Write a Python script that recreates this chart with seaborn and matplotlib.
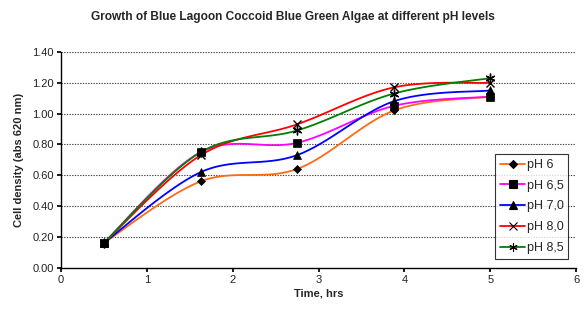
import numpy as np
import matplotlib
matplotlib.use('Agg')
import matplotlib.pyplot as plt
import seaborn as sns
from matplotlib.lines import Line2D

# tempo de medicao (horas) e densidade celular por pH
time_hrs = [0.5, 1.63, 2.75, 3.88, 5.0]
ph_labels = ['pH 6', 'pH 6,5', 'pH 7,0', 'pH 8,0', 'pH 8,5']
ph6 = [0.16, 0.56, 0.64, 1.02, 1.11]
ph65 = [0.16, 0.75, 0.81, 1.05, 1.11]
ph70 = [0.16, 0.62, 0.73, 1.08, 1.15]
ph80 = [0.16, 0.73, 0.93, 1.17, 1.20]
ph85 = [0.16, 0.75, 0.89, 1.13, 1.23]

series = [ph6, ph65, ph70, ph80, ph85]
colors = ['#FF6A13', '#FF00FF', '#0000FF', '#FF0000', '#008000']
markers = ['D', 's', '^', 'x', (6, 2, 0)]
msizes = [4.5, 6, 6, 6, 7]


def smooth(x, y, n=30):
    # curva suavizada estilo Excel (Bezier com pontos de controle Catmull-Rom)
    x = np.asarray(x, float)
    y = np.asarray(y, float)
    px = np.concatenate([[x[0]], x, [x[-1]]])
    py = np.concatenate([[y[0]], y, [y[-1]]])
    xs, ys = [], []
    t = np.linspace(0, 1, n)
    for i in range(1, len(px) - 2):
        p0 = np.array([px[i], py[i]])
        p3 = np.array([px[i + 1], py[i + 1]])
        p1 = p0 + (np.array([px[i + 1], py[i + 1]]) - np.array([px[i - 1], py[i - 1]])) / 6
        p2 = p3 - (np.array([px[i + 2], py[i + 2]]) - np.array([px[i], py[i]])) / 6
        b = ((1 - t) ** 3)[:, None] * p0 + (3 * (1 - t) ** 2 * t)[:, None] * p1 \
            + (3 * (1 - t) * t ** 2)[:, None] * p2 + (t ** 3)[:, None] * p3
        xs.extend(b[:, 0])
        ys.extend(b[:, 1])
    return np.array(xs), np.array(ys)


sns.set_theme(style='white')
plt.rcParams['font.family'] = ['Liberation Sans', 'DejaVu Sans']

fig = plt.figure(figsize=(5.85, 3.09), dpi=100)
ax = fig.add_axes([0.104, 0.134, 0.881, 0.698])

handles = []
for vals, lab, c, m, ms in zip(series, ph_labels, colors, markers, msizes):
    sx, sy = smooth(time_hrs, vals)
    sns.lineplot(x=sx, y=sy, ax=ax, color=c, linewidth=1.3, sort=False, estimator=None)
    ax.plot(time_hrs, vals, linestyle='none', marker=m, color='black',
            markersize=ms, markeredgewidth=1 if m in ('x', (6, 2, 0)) else 0.5, zorder=5)
    handles.append(Line2D([0], [0], color=c, linewidth=1.3, marker=m,
                          markerfacecolor='black', markeredgecolor='black',
                          markersize=ms * 0.85, markeredgewidth=0.8))

ax.set_xlim(0, 6)
ax.set_ylim(0, 1.4)
ax.set_xticks(range(0, 7))
ax.set_yticks(np.arange(0, 1.41, 0.2))
ax.set_yticklabels([f'{v:.2f}' for v in np.arange(0, 1.41, 0.2)])
ax.tick_params(axis='both', labelsize=8, length=3, direction='out', color='black',
               labelcolor='#222222', bottom=True, left=True, pad=2)
for yv in np.arange(0.2, 1.41, 0.2):
    ax.axhline(yv, color='#444444', linestyle=(0, (1.2, 1.2)), linewidth=0.8, zorder=0)
for s in ['top', 'right']:
    ax.spines[s].set_visible(False)
for s in ['left', 'bottom']:
    ax.spines[s].set_color('black')
    ax.spines[s].set_linewidth(1)

ax.set_xlabel('Time, hrs', fontsize=8, fontweight='bold', labelpad=3)
ax.set_ylabel('Cell density (abs 620 nm)', fontsize=8, fontweight='bold', labelpad=6)
fig.suptitle('Growth of Blue Lagoon Coccoid Blue Green Algae at different pH levels',
             x=0.5, y=0.965, fontsize=8.6, fontweight='bold')

leg = ax.legend(handles=handles, labels=ph_labels, loc='lower left',
                bbox_to_anchor=(0.843, 0.04, 0.141, 0.505), mode='expand',
                fontsize=9, frameon=True, fancybox=False, handlelength=2.0,
                handletextpad=0.15, borderaxespad=0, labelspacing=0.7, borderpad=0.4)
leg.get_frame().set_edgecolor('black')
leg.get_frame().set_linewidth(0.8)

fig.savefig('out.png', dpi=100)
